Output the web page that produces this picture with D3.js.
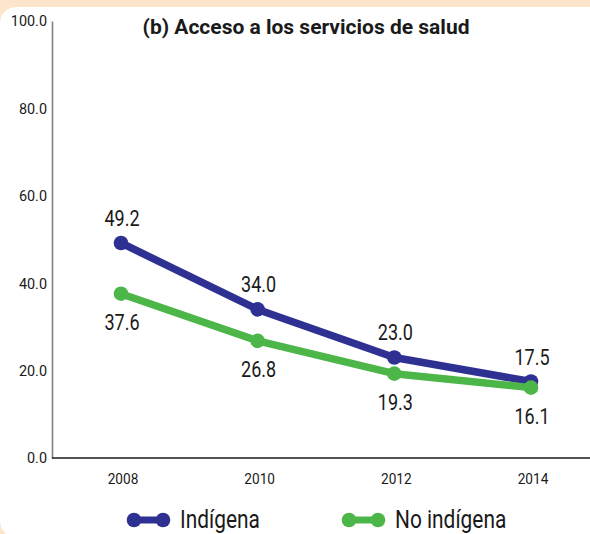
<!DOCTYPE html>
<html lang="es">
<head>
    <meta charset="UTF-8">
    <title>Acceso a los servicios de salud</title>
    <style>
        body {
            margin: 0;
            padding: 0;
            background: #fde5cc;
            overflow: hidden;
        }
        svg text {
            font-family: "Roboto", "Liberation Sans", sans-serif;
            fill: #1a1a1a;
        }
    </style>
    <script src="https://d3js.org/d3.v7.min.js"></script>
</head>
<body>
    <div id="chart"></div>
    <script>
        // Data
        const years = [2008, 2010, 2012, 2014];
        const indigena = [49.2, 34.0, 23.0, 17.5];
        const noIndigena = [37.6, 26.8, 19.3, 16.1];
        const yTicks = [0, 20, 40, 60, 80, 100];
        const seriesNames = ["Indígena", "No indígena"];
        const seriesColors = ["#2e3192", "#4cb748"];

        const width = 590;
        const height = 534;

        const svg = d3.select("#chart")
            .append("svg")
            .attr("width", width)
            .attr("height", height);

        // the reference uses a condensed face, so scale text horizontally
        function squeezed(parent, px, py, sx) {
            return parent.append("text")
                .attr("transform", `translate(${px},${py}) scale(${sx},1)`);
        }

        // white card on the peach background
        svg.append("rect")
            .attr("x", 0)
            .attr("y", 7)
            .attr("width", 620)
            .attr("height", 530)
            .attr("rx", 16)
            .attr("fill", "#ffffff");

        const x = d3.scalePoint()
            .domain(years)
            .range([121, 531]);

        const y = d3.scaleLinear()
            .domain([0, 100])
            .range([458, 21]);

        // y axis
        const yAxis = svg.append("g")
            .attr("transform", "translate(52,0)")
            .call(d3.axisLeft(y).tickValues(yTicks).tickFormat(d3.format(".1f")).tickSize(0).tickPadding(5));
        yAxis.select(".domain").attr("stroke", "#808080").attr("stroke-width", 1.6);
        yAxis.selectAll("text")
            .style("font-size", "15.5px")
            .attr("fill", "#1a1a1a")
            .attr("x", -5 / 0.93)
            .attr("transform", "scale(0.93,1)");

        // x axis line
        svg.append("line")
            .attr("x1", 52)
            .attr("x2", width)
            .attr("y1", y(0))
            .attr("y2", y(0))
            .attr("stroke", "#1a1a1a")
            .attr("stroke-width", 1.4);

        years.forEach(yr => {
            squeezed(svg, x(yr) + 2, 484, 0.88)
                .attr("text-anchor", "middle")
                .style("font-size", "15.5px")
                .text(yr);
        });

        // title
        squeezed(svg, 306, 34, 1)
            .attr("text-anchor", "middle")
            .style("font-size", "21px")
            .style("font-weight", "bold")
            .text("(b) Acceso a los servicios de salud");

        const line = d3.line()
            .x((d, i) => x(years[i]))
            .y(d => y(d));

        const series = [indigena, noIndigena];

        series.forEach((values, s) => {
            const g = svg.append("g");
            g.append("path")
                .datum(values)
                .attr("d", line)
                .attr("fill", "none")
                .attr("stroke", seriesColors[s])
                .attr("stroke-width", 7.5)
                .attr("stroke-linejoin", "round");

            g.selectAll("circle")
                .data(values)
                .join("circle")
                .attr("cx", (d, i) => x(years[i]))
                .attr("cy", d => y(d))
                .attr("r", 7.3)
                .attr("fill", seriesColors[s]);

            // labels: above for Indígena, below for No indígena
            values.forEach((d, i) => {
                squeezed(g, x(years[i]) + 1, s === 0 ? y(d) - 17 : y(d) + 36, 0.82)
                    .attr("text-anchor", "middle")
                    .style("font-size", "22px")
                    .text(d.toFixed(1));
            });
        });

        // legend
        const legendX = [134, 349];
        const legend = svg.append("g")
            .selectAll("g")
            .data(seriesNames)
            .join("g")
            .attr("transform", (d, i) => `translate(${legendX[i]},520)`);

        legend.append("line")
            .attr("x1", 0)
            .attr("x2", 29)
            .attr("stroke", (d, i) => seriesColors[i])
            .attr("stroke-width", 7);
        legend.append("circle")
            .attr("cx", 0)
            .attr("r", 7.3)
            .attr("fill", (d, i) => seriesColors[i]);
        legend.append("circle")
            .attr("cx", 29)
            .attr("r", 7.3)
            .attr("fill", (d, i) => seriesColors[i]);
        legend.append("text")
            .attr("transform", "translate(46,8) scale(0.82,1)")
            .style("font-size", "25.5px")
            .text(d => d);
    </script>
</body>
</html>
